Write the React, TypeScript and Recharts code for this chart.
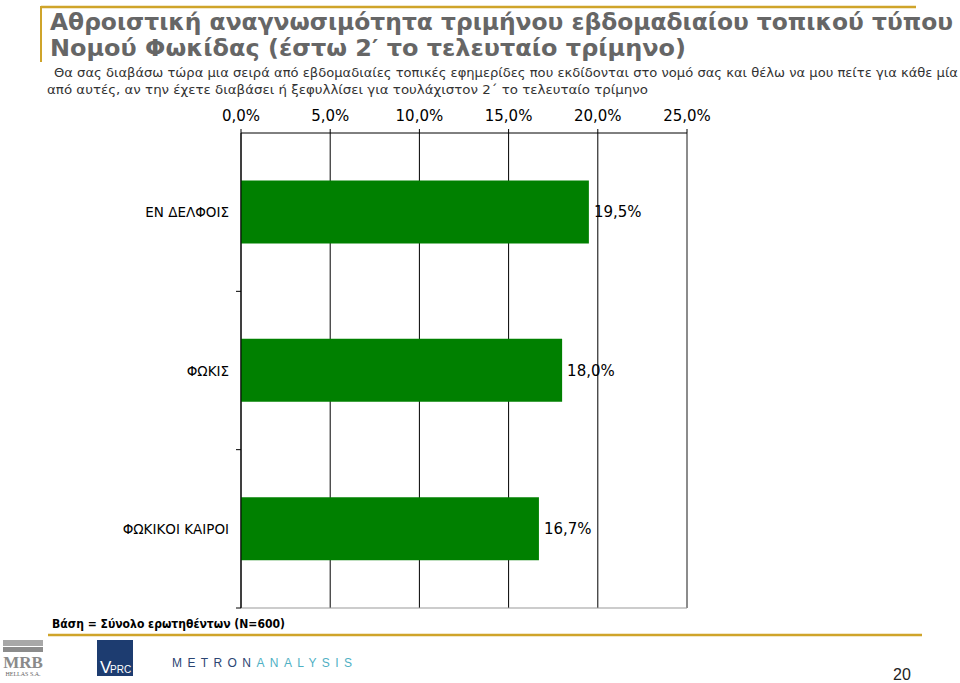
import {
  BarChart,
  Bar,
  XAxis,
  YAxis,
  CartesianGrid,
  ReferenceLine,
  LabelList,
} from "recharts";

const papers = ["ΕΝ ΔΕΛΦΟΙΣ", "ΦΩΚΙΣ", "ΦΩΚΙΚΟΙ ΚΑΙΡΟΙ"];
const readership = [19.5, 18.0, 16.7];
const pctTicks = [0, 5, 10, 15, 20, 25];

const data = papers.map((name, i) => ({ name, value: readership[i] }));

const fmt = (v: number) => v.toFixed(1).replace(".", ",") + "%";

const GOLD = "#CFA42A";
const FONT = "'DejaVu Sans', Verdana, sans-serif";

// category label plus a small tick at the lower edge of each band
const CategoryTick = (props: any) => {
  const { x, y, payload } = props;
  const half = payload?.offset ?? 0;
  const axisX = x + 12;
  return (
    <g>
      <text x={x} y={y} dy={5} textAnchor="end" fontSize={13.5} fill="#000" fontFamily={FONT}>
        {payload.value}
      </text>
      <line x1={axisX - 5} x2={axisX} y1={y + half} y2={y + half} stroke="#000" />
    </g>
  );
};

function Slide() {
  return (
    <svg width={960} height={683} style={{ position: "absolute", left: 0, top: 0 }}>
      <line x1={41} y1={7} x2={916} y2={7} stroke={GOLD} strokeWidth={2.5} />
      <line x1={41} y1={6} x2={41} y2={62} stroke={GOLD} strokeWidth={2} />
      <g fontFamily={FONT} fontWeight="bold" fill="#666" fontSize={23}>
        <text x={50} y={30} textLength={903} lengthAdjust="spacingAndGlyphs">
          Αθροιστική αναγνωσιμότητα τριμήνου εβδομαδιαίου τοπικού τύπου
        </text>
        <text x={50} y={56} textLength={636} lengthAdjust="spacingAndGlyphs">
          Νομού Φωκίδας (έστω 2′ το τελευταίο τρίμηνο)
        </text>
      </g>
      <g fontFamily={FONT} fill="#333" fontSize={12}>
        <text x={54} y={77} textLength={904} lengthAdjust="spacingAndGlyphs">
          Θα σας διαβάσω τώρα μια σειρά από εβδομαδιαίες τοπικές εφημερίδες που εκδίδονται στο νομό σας και θέλω να μου πείτε για κάθε μία
        </text>
        <text x={47} y={94} textLength={601} lengthAdjust="spacingAndGlyphs">
          από αυτές, αν την έχετε διαβάσει ή ξεφυλλίσει για τουλάχιστον 2΄ το τελευταίο τρίμηνο
        </text>
      </g>
      <text x={52} y={628} fontFamily={FONT} fontWeight="bold" fontSize={12} fill="#000" textLength={233} lengthAdjust="spacingAndGlyphs">
        Βάση = Σύνολο ερωτηθέντων (N=600)
      </text>
      <line x1={48} y1={635} x2={922} y2={635} stroke={GOLD} strokeWidth={2.5} />
      {/* logos */}
      <rect x={3} y={640} width={40} height={6} fill="#a8a8a8" />
      <rect x={3} y={647} width={40} height={5} fill="#8c8c8c" />
      <text x={23} y={668} textAnchor="middle" fontFamily="'Liberation Serif', serif" fontWeight="bold" fontSize={17} fill="#8a8a8a">
        MRB
      </text>
      <text x={23} y={676} textAnchor="middle" fontFamily="'Liberation Serif', serif" fontSize={6} fill="#666">
        HELLAS S.A.
      </text>
      <rect x={97} y={640} width={36} height={36} fill="#1d3c70" />
      <text x={100} y={673} fontFamily="'Liberation Sans', sans-serif" fontSize={17} fill="#fff">V</text>
      <text x={110} y={673} fontFamily="'Liberation Sans', sans-serif" fontSize={10} fill="#fff">PRC</text>
      <text x={172} y={667} fontFamily="'Liberation Sans', sans-serif" fontSize={12} letterSpacing={5.4} fill="#2b4573">
        METRON<tspan fill="#4fb0c4">ANALYSIS</tspan>
      </text>
      <text x={902} y={680} textAnchor="middle" fontFamily="'Liberation Sans Narrow', 'Liberation Sans', sans-serif" fontSize={16} fill="#222">
        20
      </text>
    </svg>
  );
}

export default function App() {
  return (
    <div style={{ position: "absolute", left: 0, top: 0, width: 960, height: 683, background: "#fff" }}>
      <Slide />
      <div style={{ position: "absolute", left: 0, top: 0 }}>
        <BarChart
          width={960}
          height={683}
          data={data}
          layout="vertical"
          barCategoryGap="30%"
          margin={{ top: 103, right: 273, left: 0, bottom: 75 }}
          style={{ fontFamily: FONT }}
        >
          <CartesianGrid horizontal={false} stroke="#000" />
          <CartesianGrid
            vertical={false}
            stroke="#999"
            horizontalCoordinatesGenerator={({ offset }: any) => [offset.top + offset.height]}
          />
          <XAxis
            type="number"
            orientation="top"
            domain={[0, 25]}
            ticks={pctTicks}
            tickFormatter={fmt}
            height={30}
            tickSize={4}
            tickMargin={8}
            axisLine={{ stroke: "#000" }}
            tickLine={{ stroke: "#000" }}
            tick={{ fill: "#000", fontSize: 15 }}
          />
          <YAxis
            type="category"
            dataKey="name"
            width={241}
            tickSize={0}
            tickMargin={12}
            tickLine={false}
            axisLine={{ stroke: "#000" }}
            tick={<CategoryTick />}
            interval={0}
          />
          <ReferenceLine x={25} stroke="#999" />
          <Bar dataKey="value" fill="#008000" isAnimationActive={false}>
            <LabelList
              dataKey="value"
              position="right"
              offset={5}
              formatter={(v: any) => fmt(Number(v))}
              fill="#000"
              fontSize={15}
            />
          </Bar>
        </BarChart>
      </div>
    </div>
  );
}
